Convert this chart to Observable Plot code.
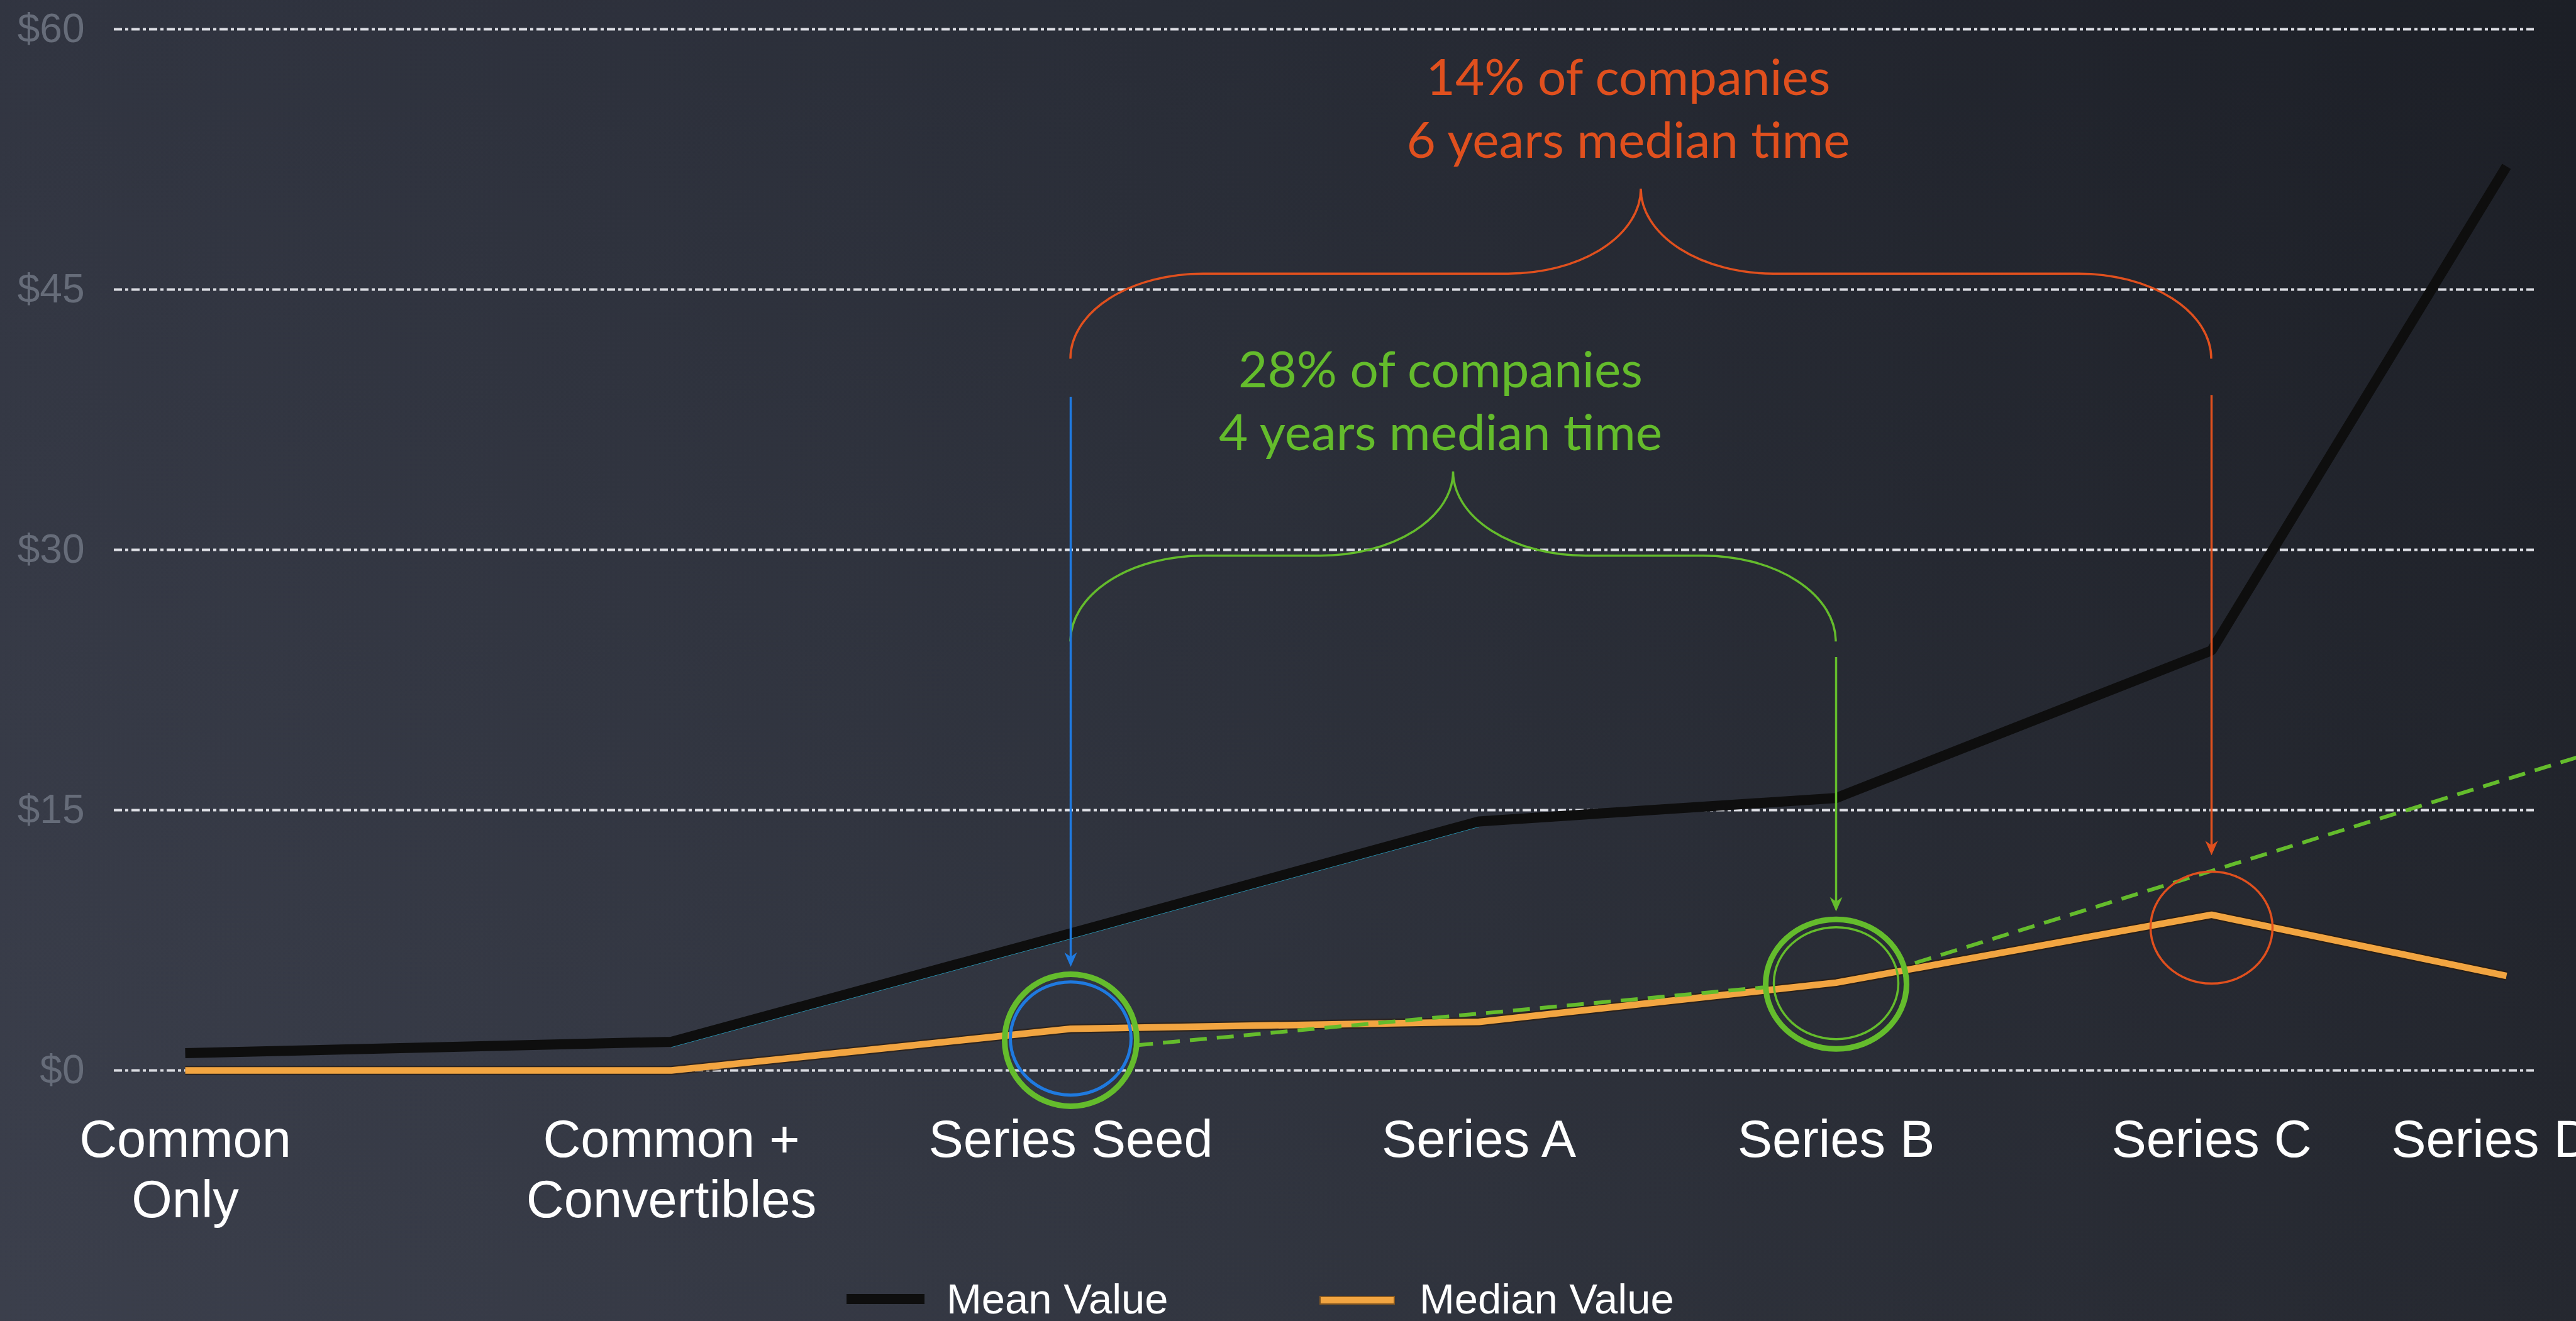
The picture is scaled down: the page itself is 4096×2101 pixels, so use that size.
<!DOCTYPE html>
<html>
<head>
<meta charset="utf-8">
<script src="https://cdn.jsdelivr.net/npm/d3@7"></script>
<script src="https://cdn.jsdelivr.net/npm/@observablehq/plot@0.6"></script>
<style>
html, body { margin: 0; padding: 0; }
body {
  width: 4096px; height: 2101px; overflow: hidden;
  background:
    linear-gradient(to bottom, rgba(0,0,0,0.07), rgba(255,255,255,0.03)),
    linear-gradient(to right, #353946 0%, #2c303b 45%, #1e2129 100%);
  font-family: "Liberation Sans", Arial, sans-serif;
}
#chart svg { display: block; }
#legend { position: relative; width: 4096px; height: 101px; }
#legend .sw { position: absolute; }
#legend .lt { position: absolute; color: #ffffff; font-size: 67px; line-height: 67px; white-space: nowrap; }
</style>
</head>
<body>
<div id="chart"></div>
<div id="legend"></div>
<script>
// ---------- data ----------
const categories = ["Common\nOnly", "Common +\nConvertibles", "Series Seed", "Series A", "Series B", "Series C", "Series D+"];
const meanValues   = [1.0, 1.65, 7.9, 14.35, 15.7, 24.2, 52.1];
const medianValues = [0, 0, 2.4, 2.8, 5.06, 8.97, 5.45];
const yTicks = [0, 15, 30, 45, 60];
const seriesNames = ["Mean Value", "Median Value"];

// dashed projection line (x in category index units, y in $)
const trendX   = [2.16, 3.81, 4.21, 6.25];
const trendY   = [1.45, 4.81, 6.19, 18.1];
const trendSeg = [0, 0, 1, 1];

// braces with their labels
const braceFrom   = [2, 2];
const braceTo     = [5, 4];
const braceLevel  = [45.9, 29.65];
const bracePeak   = [50.8, 34.5];
const braceFoot   = [41.0, 24.7];
const braceLabelY = [56.2, 39.35];
const braceLabels = [["14% of companies", "6 years median time"], ["28% of companies", "4 years median time"]];

// arrows
const arrowX    = [2, 4, 5];
const arrowFrom = [38.8, 23.8, 38.9];
const arrowTo   = [5.97, 9.16, 12.4];

// highlight ellipses
const ellipseX = [2, 2, 4, 4, 5];
const ellipseY = [1.84, 1.74, 4.97, 5.03, 8.23];

// ---------- layout / styles ----------
// the reference places its categories unevenly: piecewise mapping of category index -> horizontal position
const stage = d3.scaleLinear([0, 1, 2, 3, 4, 5, 6], [294, 1067, 1702, 2351, 2919, 3516, 3985]);
const GREEN = "#64bc2c", ORANGE_RED = "#e0501e", BLUE = "#1f7ae0";
const MEAN_COLOR = "#0e0e0e", MEDIAN_COLOR = "#f2a541";
const braceColors = [ORANGE_RED, GREEN];
const arrowColors = [BLUE, GREEN, ORANGE_RED];
const ellipseStyles = [
  {rx: 96, ry: 90, stroke: BLUE, w: 5},
  {rx: 105, ry: 105, stroke: GREEN, w: 9},
  {rx: 112, ry: 103, stroke: GREEN, w: 9},
  {rx: 99, ry: 89, stroke: GREEN, w: 3.5},
  {rx: 97, ry: 89, stroke: ORANGE_RED, w: 3.5}
];

const rows = categories.map((c, i) => ({i, cat: c, mean: meanValues[i], median: medianValues[i]}));
const trend = trendX.map((x, i) => ({x, y: trendY[i], seg: trendSeg[i]}));
const tickIdx = d3.range(categories.length);

function ellipseSymbol(rx, ry) {
  const k = 0.5523;
  return {draw(ctx) {
    ctx.moveTo(rx, 0);
    ctx.bezierCurveTo(rx, ry * k, rx * k, ry, 0, ry);
    ctx.bezierCurveTo(-rx * k, ry, -rx, ry * k, -rx, 0);
    ctx.bezierCurveTo(-rx, -ry * k, -rx * k, -ry, 0, -ry);
    ctx.bezierCurveTo(rx * k, -ry, rx, -ry * k, rx, 0);
    ctx.closePath();
  }};
}
const stealth = {draw(ctx) {
  ctx.moveTo(0, 0);
  ctx.lineTo(-10, -23);
  ctx.lineTo(0, -16);
  ctx.lineTo(10, -23);
  ctx.closePath();
}};

function braces(index, scales) {
  const {x, y} = scales;
  const g = d3.create("svg:g");
  const rx = 211;
  braceFrom.forEach((f, i) => {
    const x0 = x(stage(f)), x1 = x(stage(braceTo[i])), xm = (x0 + x1) / 2;
    const yl = y(braceLevel[i]), yp = y(bracePeak[i]), yf = y(braceFoot[i]);
    const r1 = yf - yl, r2 = yl - yp;
    const d = `M${x0},${yf} A${rx},${r1} 0 0 1 ${x0 + rx},${yl} L${xm - rx},${yl} ` +
              `A${rx},${r2} 0 0 0 ${xm},${yp} A${rx},${r2} 0 0 0 ${xm + rx},${yl} ` +
              `L${x1 - rx},${yl} A${rx},${r1} 0 0 1 ${x1},${yf}`;
    g.append("path").attr("d", d).attr("fill", "none")
      .attr("stroke", braceColors[i]).attr("stroke-width", 3.5);
    const t = g.append("text")
      .attr("font-family", "Lato, 'Open Sans', sans-serif")
      .attr("font-size", 80)
      .attr("fill", braceColors[i])
      .attr("text-anchor", "middle");
    braceLabels[i].forEach((line, j) => {
      t.append("tspan").attr("x", xm - 20).attr("y", y(braceLabelY[i]) + j * 100).text(line);
    });
  });
  return g.node();
}

const W = 4096, H = 2000;
const chart = Plot.plot({
  width: W, height: H,
  marginLeft: 181, marginRight: 67, marginTop: 46, marginBottom: 298,
  style: {background: "transparent", overflow: "visible", fontFamily: "Liberation Sans, Arial, sans-serif"},
  x: {domain: [0, W], range: [0, W]},
  y: {domain: [0, 60]},
  marks: [
    Plot.ruleY(yTicks, {stroke: "#dcdde3", strokeWidth: 4, strokeDasharray: "13,5,5,5"}),
    Plot.line(rows.filter(d => d.i >= 1 && d.i <= 3), {x: d => stage(d.i), y: "mean", stroke: "#2aa3c4", strokeWidth: 2, dy: 8, strokeLinecap: "butt"}),
    Plot.line(rows, {x: d => stage(d.i), y: "mean", stroke: MEAN_COLOR, strokeWidth: 16, strokeLinecap: "butt", strokeLinejoin: "miter"}),
    Plot.line(rows, {x: d => stage(d.i), y: "median", stroke: "#2a1806", strokeOpacity: 0.55, strokeWidth: 15, strokeLinecap: "butt", strokeLinejoin: "miter"}),
    Plot.line(rows, {x: d => stage(d.i), y: "median", stroke: MEDIAN_COLOR, strokeWidth: 10.5, strokeLinecap: "butt", strokeLinejoin: "miter"}),
    Plot.line(trend, {x: d => stage(d.x), y: "y", z: "seg", stroke: GREEN, strokeWidth: 6, strokeDasharray: "27,16", strokeLinecap: "butt"}),
    ...ellipseX.map((ex, i) => Plot.dot([i], {
      x: () => stage(ex), y: () => ellipseY[i],
      symbol: ellipseSymbol(ellipseStyles[i].rx, ellipseStyles[i].ry),
      fill: "none", stroke: ellipseStyles[i].stroke, strokeWidth: ellipseStyles[i].w
    })),
    braces,
    ...arrowX.map((ax, i) => Plot.ruleX([i], {
      x: () => stage(ax), y1: () => arrowFrom[i], y2: () => arrowTo[i],
      stroke: arrowColors[i], strokeWidth: 3.5, insetBottom: 12
    })),
    ...arrowX.map((ax, i) => Plot.dot([i], {
      x: () => stage(ax), y: () => arrowTo[i], symbol: stealth, fill: arrowColors[i], stroke: "none"
    })),
    Plot.axisY({ticks: yTicks, tickFormat: d => "$" + d, tickSize: 0, tickPadding: 47, fontSize: 64, color: "#666c79", label: null, anchor: "left"}),
    Plot.axisX(tickIdx, {x: i => stage(i), text: i => categories[i], tickSize: 0, tickPadding: 69, fontSize: 83, lineHeight: 1.16, color: "#ffffff", label: null, anchor: "bottom"})
  ]
});
document.getElementById("chart").appendChild(chart);

// legend below the svg
const legend = document.getElementById("legend");
const items = [
  {name: seriesNames[0], color: MEAN_COLOR, left: 1346, w: 124, h: 16, border: "none", textLeft: 1505},
  {name: seriesNames[1], color: MEDIAN_COLOR, left: 2098, w: 116, h: 10, border: "2px solid rgba(42,24,6,0.55)", textLeft: 2257}
];
items.forEach(it => {
  const sw = document.createElement("div");
  sw.className = "sw";
  sw.style.left = it.left + "px";
  sw.style.width = it.w + "px";
  sw.style.height = it.h + "px";
  sw.style.top = (66 - it.h / 2) + "px";
  sw.style.background = it.color;
  sw.style.border = it.border;
  legend.appendChild(sw);
  const t = document.createElement("div");
  t.className = "lt";
  t.style.left = it.textLeft + "px";
  t.style.top = "32px";
  t.textContent = it.name;
  legend.appendChild(t);
});
</script>
</body>
</html>
